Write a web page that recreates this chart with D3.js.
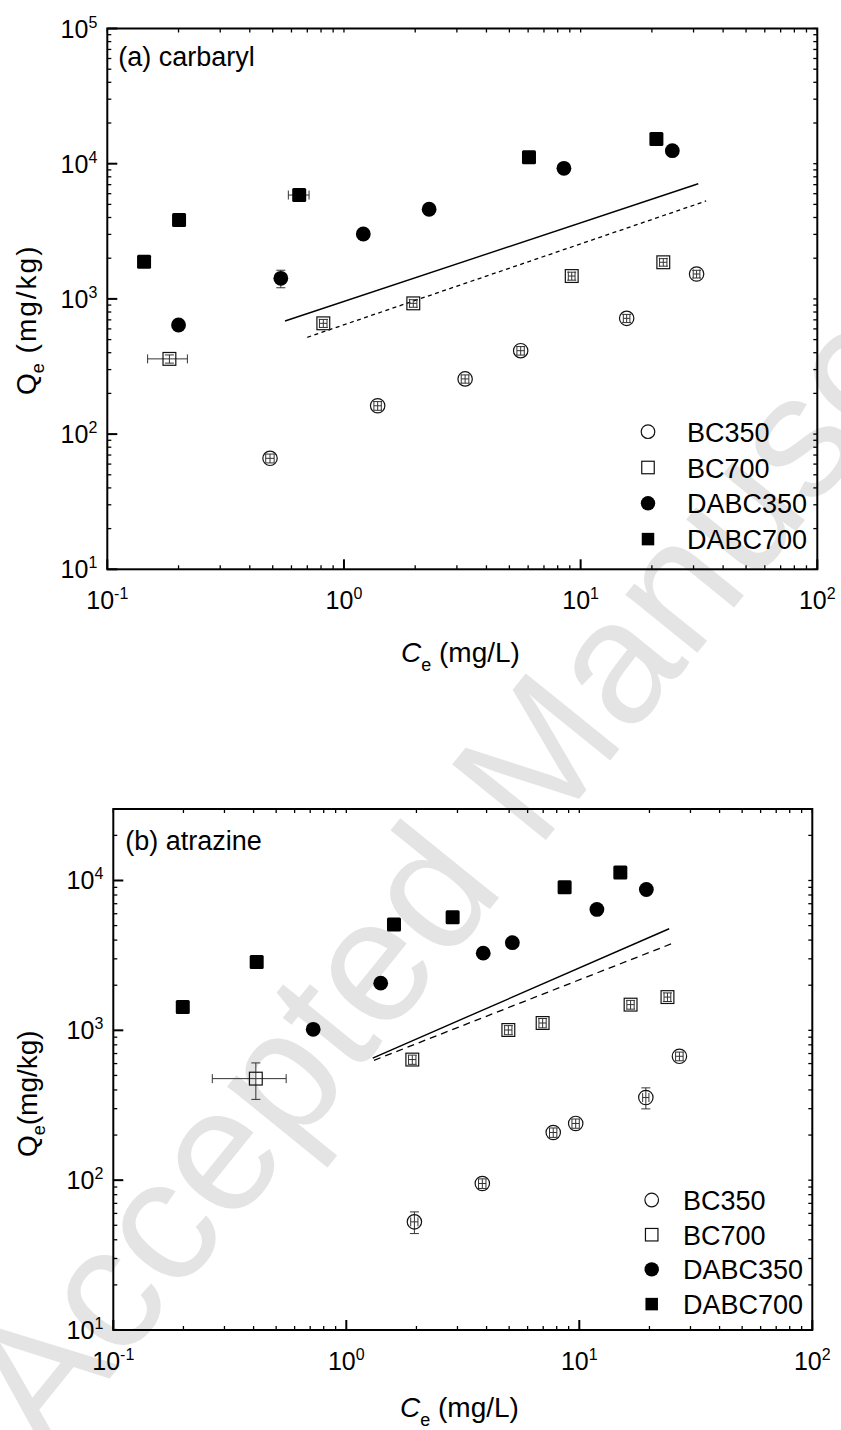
<!DOCTYPE html>
<html><head><meta charset="utf-8">
<script src="https://cdn.jsdelivr.net/npm/d3@7"></script>
<style>
body{margin:0;background:#fff}
svg{display:block}
text{font-family:"Liberation Sans", Arial, Helvetica, sans-serif;fill:#000}
</style>
</head><body>
<svg id="chart" width="841" height="1430"></svg>
<script>
// ---------------- DATA ----------------
const seriesNames = ["BC350", "BC700", "DABC350", "DABC700"];
const xTickValues = [0.1, 1, 10, 100];
const yTickValuesA = [10, 100, 1000, 10000, 100000];
const yTickValuesB = [10, 100, 1000, 10000];

// (a) carbaryl
const carbaryl_BC350_ce    = [0.487, 1.388, 3.25, 5.58, 15.65, 30.9];
const carbaryl_BC350_qe    = [66.2, 162, 256, 414, 718, 1528];
const carbaryl_BC350_ceErr = [0.02, 0.05, 0.12, 0.2, 0.5, 1.0];
const carbaryl_BC350_qeErr = [5, 12, 18, 30, 50, 100];

const carbaryl_BC700_ce    = [0.183, 0.818, 1.963, 9.17, 22.35];
const carbaryl_BC700_qe    = [360, 660, 927, 1476, 1866];
const carbaryl_BC700_ceErr = [0.035, 0.03, 0.07, 0.3, 0.8];
const carbaryl_BC700_qeErr = [25, 45, 60, 100, 120];

const carbaryl_DABC350_ce    = [0.2, 0.541, 1.207, 2.29, 8.5, 24.4];
const carbaryl_DABC350_qe    = [641, 1419, 3020, 4603, 9250, 12480];
const carbaryl_DABC350_ceErr = [0, 0, 0, 0, 0, 0];
const carbaryl_DABC350_qeErr = [0, 210, 0, 0, 0, 0];

const carbaryl_DABC700_ce    = [0.143, 0.201, 0.647, 6.05, 20.9];
const carbaryl_DABC700_qe    = [1884, 3836, 5863, 11140, 15240];
const carbaryl_DABC700_ceErr = [0, 0, 0.065, 0, 0];
const carbaryl_DABC700_qeErr = [0, 0, 0, 0, 0];

const carbaryl_fitSolid_ce  = [0.5636, 31.4];
const carbaryl_fitSolid_qe  = [686, 7110];
const carbaryl_fitDashed_ce = [0.70, 33.9];
const carbaryl_fitDashed_qe = [520, 5300];

// (b) atrazine
const atrazine_BC350_ce    = [1.96, 3.835, 7.73, 9.65, 19.3, 26.9];
const atrazine_BC350_qe    = [52.7, 95, 208, 239, 356, 671];
const atrazine_BC350_ceErr = [0.07, 0.14, 0.28, 0.35, 0.6, 1.0];
const atrazine_BC350_qeErr = [8.7, 7, 15, 17, 57, 45];

const atrazine_BC700_ce    = [0.409, 1.92, 4.96, 6.96, 16.6, 23.9];
const atrazine_BC700_qe    = [476, 638, 1005, 1119, 1484, 1667];
const atrazine_BC700_ceErr = [0.143, 0.07, 0.18, 0.25, 0.6, 0.8];
const atrazine_BC700_qeErr = [130, 45, 70, 80, 100, 110];

const atrazine_DABC350_ce    = [0.721, 1.405, 3.87, 5.16, 11.9, 19.4];
const atrazine_DABC350_qe    = [1016, 2065, 3275, 3844, 6410, 8710];
const atrazine_DABC350_ceErr = [0, 0, 0, 0, 0, 0];
const atrazine_DABC350_qeErr = [0, 0, 0, 0, 0, 0];

const atrazine_DABC700_ce    = [0.1987, 0.4125, 1.602, 2.86, 8.65, 15.0];
const atrazine_DABC700_qe    = [1430, 2853, 5090, 5692, 9020, 11300];
const atrazine_DABC700_ceErr = [0, 0, 0, 0, 0, 0];
const atrazine_DABC700_qeErr = [0, 0, 0, 0, 0, 0];

const atrazine_fitSolid_ce  = [1.298, 24.3];
const atrazine_fitSolid_qe  = [653, 4764];
const atrazine_fitDashed_ce = [1.315, 24.9];
const atrazine_fitDashed_qe = [631, 3785];

// ---------------- BUILD ----------------
function zipSeries(ce, qe, ceErr, qeErr) {
  return ce.map((c, i) => ({ce: c, qe: qe[i], ceErr: ceErr[i], qeErr: qeErr[i]}));
}
function zipLine(ce, qe) { return ce.map((c, i) => ({ce: c, qe: qe[i]})); }

const panels = [
  {
    title: "(a) carbaryl",
    box: {left: 107.3, right: 817.3, top: 28.5, bottom: 569.3},
    yDomain: [10, 100000], yTicks: yTickValuesA,
    series: [
      zipSeries(carbaryl_BC350_ce, carbaryl_BC350_qe, carbaryl_BC350_ceErr, carbaryl_BC350_qeErr),
      zipSeries(carbaryl_BC700_ce, carbaryl_BC700_qe, carbaryl_BC700_ceErr, carbaryl_BC700_qeErr),
      zipSeries(carbaryl_DABC350_ce, carbaryl_DABC350_qe, carbaryl_DABC350_ceErr, carbaryl_DABC350_qeErr),
      zipSeries(carbaryl_DABC700_ce, carbaryl_DABC700_qe, carbaryl_DABC700_ceErr, carbaryl_DABC700_qeErr)
    ],
    fitSolid: zipLine(carbaryl_fitSolid_ce, carbaryl_fitSolid_qe),
    fitDashed: zipLine(carbaryl_fitDashed_ce, carbaryl_fitDashed_qe),
    dash: "4,3.5",
    legend: {x: 648, textX: 687, y0: 431.7, dy: 35.8},
    yTitle: {x: 36, y: 395, space: " ", spacing: 2},
    xTitle: {x: 401, y: 662},
    titlePos: {dx: 11, dy: 37}
  },
  {
    title: "(b) atrazine",
    box: {left: 113.3, right: 812.3, top: 809, bottom: 1330},
    yDomain: [10, 30000], yTicks: yTickValuesB,
    series: [
      zipSeries(atrazine_BC350_ce, atrazine_BC350_qe, atrazine_BC350_ceErr, atrazine_BC350_qeErr),
      zipSeries(atrazine_BC700_ce, atrazine_BC700_qe, atrazine_BC700_ceErr, atrazine_BC700_qeErr),
      zipSeries(atrazine_DABC350_ce, atrazine_DABC350_qe, atrazine_DABC350_ceErr, atrazine_DABC350_qeErr),
      zipSeries(atrazine_DABC700_ce, atrazine_DABC700_qe, atrazine_DABC700_ceErr, atrazine_DABC700_qeErr)
    ],
    fitSolid: zipLine(atrazine_fitSolid_ce, atrazine_fitSolid_qe),
    fitDashed: zipLine(atrazine_fitDashed_ce, atrazine_fitDashed_qe),
    dash: "7,5",
    legend: {x: 651.7, textX: 683, y0: 1200, dy: 34.7},
    yTitle: {x: 37, y: 1157, space: "", spacing: 0},
    xTitle: {x: 400, y: 1417},
    titlePos: {dx: 12, dy: 41}
  }
];

const svg = d3.select("#chart");

// watermark (behind everything)
svg.append("text")
  .attr("transform", "translate(47,1456) rotate(-51)")
  .attr("font-size", 175)
  .style("fill", "#e4e4e4")
  .text("Accepted Manuscript");

function drawMarker(g, type, x, y, legend) {
  if (type === "BC350") {
    g.append("circle").attr("cx", x).attr("cy", y).attr("r", legend ? 6.8 : 7.2)
      .attr("fill", "none").attr("stroke", "#111").attr("stroke-width", 1.2);
  } else if (type === "BC700") {
    const s = legend ? 12.5 : 12.8;
    g.append("rect").attr("x", x - s / 2).attr("y", y - s / 2).attr("width", s).attr("height", s)
      .attr("fill", "none").attr("stroke", "#111").attr("stroke-width", 1.2);
  } else if (type === "DABC350") {
    g.append("circle").attr("cx", x).attr("cy", y).attr("r", legend ? 7.2 : 7.4).attr("fill", "#000");
  } else {
    const s = legend ? 12.5 : 14;
    g.append("rect").attr("x", x - s / 2).attr("y", y - s / 2).attr("width", s).attr("height", s)
      .attr("rx", legend ? 0 : 1.5).attr("fill", "#000");
  }
}

function powLabel(sel, exp) {
  sel.append("tspan").text("10");
  sel.append("tspan").attr("dy", -10).attr("font-size", 16).text(exp);
}

panels.forEach(p => {
  const b = p.box;
  const x = d3.scaleLog().domain([0.1, 100]).range([b.left, b.right]);
  const y = d3.scaleLog().domain(p.yDomain).range([b.bottom, b.top]);
  const g = svg.append("g");

  // fit lines
  const line = d3.line().x(d => x(d.ce)).y(d => y(d.qe));
  g.append("path").datum(p.fitSolid).attr("d", line)
    .attr("fill", "none").attr("stroke", "#000").attr("stroke-width", 1.4);
  g.append("path").datum(p.fitDashed).attr("d", line)
    .attr("fill", "none").attr("stroke", "#000").attr("stroke-width", 1.3).attr("stroke-dasharray", p.dash);

  // error bars
  const cap = 4.5;
  p.series.forEach(ser => {
    ser.forEach(d => {
      const cx = x(d.ce), cy = y(d.qe);
      const eg = g.append("g").attr("stroke", "#333").attr("stroke-width", 1);
      if (d.ceErr > 0) {
        const x0 = x(d.ce - d.ceErr), x1 = x(d.ce + d.ceErr);
        eg.append("line").attr("x1", x0).attr("x2", x1).attr("y1", cy).attr("y2", cy);
        eg.append("line").attr("x1", x0).attr("x2", x0).attr("y1", cy - cap).attr("y2", cy + cap);
        eg.append("line").attr("x1", x1).attr("x2", x1).attr("y1", cy - cap).attr("y2", cy + cap);
      }
      if (d.qeErr > 0) {
        const y0 = y(d.qe - d.qeErr), y1 = y(d.qe + d.qeErr);
        eg.append("line").attr("x1", cx).attr("x2", cx).attr("y1", y0).attr("y2", y1);
        eg.append("line").attr("x1", cx - cap).attr("x2", cx + cap).attr("y1", y0).attr("y2", y0);
        eg.append("line").attr("x1", cx - cap).attr("x2", cx + cap).attr("y1", y1).attr("y2", y1);
      }
    });
  });

  // markers
  p.series.forEach((ser, si) => {
    ser.forEach(d => drawMarker(g, seriesNames[si], x(d.ce), y(d.qe), false));
  });

  // frame
  g.append("rect").attr("x", b.left).attr("y", b.top)
    .attr("width", b.right - b.left).attr("height", b.bottom - b.top)
    .attr("fill", "none").attr("stroke", "#000").attr("stroke-width", 2);

  // ticks
  const tg = g.append("g").attr("stroke", "#000").attr("stroke-width", 1.3);
  const xMinor = [];
  [0.1, 1, 10].forEach(dec => { for (let k = 2; k <= 9; k++) xMinor.push(dec * k); });
  const yMinor = [];
  [10, 100, 1000, 10000].forEach(dec => { for (let k = 2; k <= 9; k++) if (dec * k <= p.yDomain[1]) yMinor.push(dec * k); });
  xMinor.forEach(v => {
    tg.append("line").attr("x1", x(v)).attr("x2", x(v)).attr("y1", b.bottom).attr("y2", b.bottom - 4);
    tg.append("line").attr("x1", x(v)).attr("x2", x(v)).attr("y1", b.top).attr("y2", b.top + 4);
  });
  yMinor.forEach(v => {
    tg.append("line").attr("y1", y(v)).attr("y2", y(v)).attr("x1", b.left).attr("x2", b.left + 4);
    tg.append("line").attr("y1", y(v)).attr("y2", y(v)).attr("x1", b.right).attr("x2", b.right - 4);
  });
  xTickValues.forEach(v => {
    tg.append("line").attr("x1", x(v)).attr("x2", x(v)).attr("y1", b.bottom).attr("y2", b.bottom - 10).attr("stroke-width", 2);
    tg.append("line").attr("x1", x(v)).attr("x2", x(v)).attr("y1", b.top).attr("y2", b.top + 4);
  });
  p.yTicks.forEach(v => {
    tg.append("line").attr("y1", y(v)).attr("y2", y(v)).attr("x1", b.left).attr("x2", b.left + 10).attr("stroke-width", 2);
    tg.append("line").attr("y1", y(v)).attr("y2", y(v)).attr("x1", b.right).attr("x2", b.right - 4);
  });

  // tick labels
  xTickValues.forEach(v => {
    const t = g.append("text").attr("x", x(v)).attr("y", b.bottom + 40)
      .attr("text-anchor", "middle").attr("font-size", 25);
    powLabel(t, String(Math.round(Math.log10(v))));
  });
  p.yTicks.forEach(v => {
    const t = g.append("text").attr("x", b.left - 10).attr("y", y(v) + 9)
      .attr("text-anchor", "end").attr("font-size", 25);
    powLabel(t, String(Math.round(Math.log10(v))));
  });

  // panel title
  g.append("text").attr("x", b.left + p.titlePos.dx).attr("y", b.top + p.titlePos.dy)
    .attr("font-size", 27).text(p.title);

  // x title
  const xt = g.append("text").attr("x", p.xTitle.x).attr("y", p.xTitle.y).attr("font-size", 28);
  xt.append("tspan").attr("font-style", "italic").text("C");
  xt.append("tspan").attr("font-size", 18).attr("dy", 9).text("e");
  xt.append("tspan").attr("dy", -9).text(" (mg/L)");

  // y title
  const yt = g.append("text").attr("transform", `translate(${p.yTitle.x},${p.yTitle.y}) rotate(-90)`).attr("font-size", 28);
  yt.append("tspan").text("Q");
  yt.append("tspan").attr("font-size", 18).attr("dy", 8).text("e");
  yt.append("tspan").attr("dy", -8).attr("letter-spacing", p.yTitle.spacing).text(p.yTitle.space + "(mg/kg)");

  // legend
  seriesNames.forEach((name, i) => {
    const ly = p.legend.y0 + i * p.legend.dy;
    drawMarker(g, name, p.legend.x, ly, true);
    g.append("text").attr("x", p.legend.textX).attr("y", ly + 10).attr("font-size", 27).text(name);
  });
});
</script>
</body></html>
